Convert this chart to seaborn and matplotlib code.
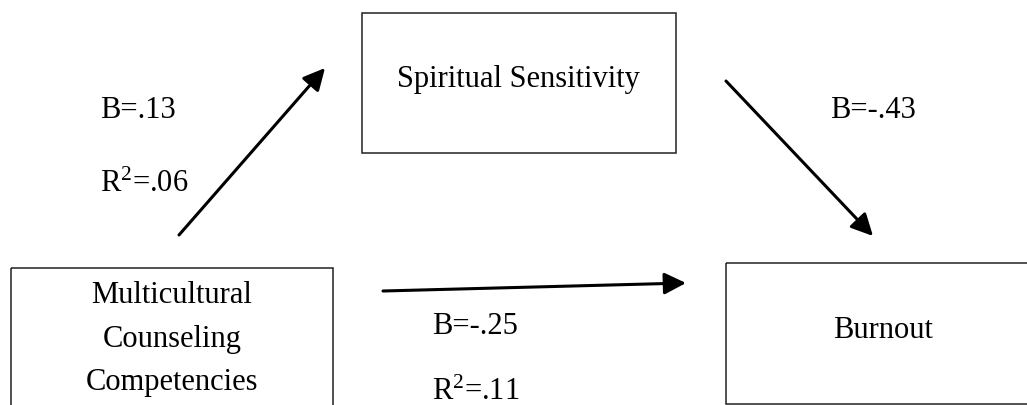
import matplotlib
matplotlib.use("Agg")
import matplotlib.pyplot as plt
import matplotlib.patches as patches
import seaborn as sns

# path model: nodes and coefficients
node_names = ["Multicultural\nCounseling\nCompetencies", "Spiritual Sensitivity", "Burnout"]
path_from = ["Multicultural\nCounseling\nCompetencies", "Spiritual Sensitivity", "Multicultural\nCounseling\nCompetencies"]
path_to = ["Spiritual Sensitivity", "Burnout", "Burnout"]
path_b = [".13", "-.43", "-.25"]
path_r2 = [".06", None, ".11"]

sns.set_theme(style="white")
plt.rcParams["font.family"] = ["Liberation Serif", "DejaVu Serif"]
plt.rcParams["mathtext.fontset"] = "custom"
plt.rcParams["mathtext.rm"] = "Liberation Serif"
plt.rcParams["mathtext.it"] = "Liberation Serif"

W, H = 1027, 405
fig = plt.figure(figsize=(W / 100, H / 100), dpi=100)
ax = fig.add_axes([0, 0, 1, 1])
ax.set_xlim(0, W)
ax.set_ylim(H, 0)
ax.axis("off")

# layout (pixel space): box rect, text centre
boxes = {
    node_names[0]: dict(rect=(11, 268, 322, 160), text=(172, 339)),
    node_names[1]: dict(rect=(362, 13, 314, 140), text=(518, 80)),
    node_names[2]: dict(rect=(726, 263, 320, 141), text=(883, 331)),
}
for name, b in boxes.items():
    x, y, w, h = b["rect"]
    ax.add_patch(patches.Rectangle((x, y), w, h, fill=False, edgecolor="#222222",
                                   linewidth=1.1, clip_on=True))
    ax.text(*b["text"], name, ha="center", va="center", fontsize=22,
            linespacing=1.68, color="black")

# arrows: start, tip
arrows = [((179, 235), (325, 68)), ((726, 81), (873, 236)), ((383, 291), (686, 283))]
for (s, t) in arrows:
    ax.annotate("", xy=t, xytext=s,
                arrowprops=dict(arrowstyle="-|>,head_length=1.1,head_width=0.55",
                                color="black", lw=2.2, shrinkA=0, shrinkB=0))

# coefficient labels: B position, R2 position
label_pos = [((100, 110), (100, 184)), ((830, 110), None), ((432, 326), (432, 392))]
for b, r2, (pb, pr) in zip(path_b, path_r2, label_pos):
    ax.text(pb[0], pb[1], "B=" + b, ha="left", va="center", fontsize=22, color="black")
    if r2 is not None:
        ax.text(pr[0], pr[1], r"R$^{\mathrm{2}}$=" + r2, ha="left", va="center",
                fontsize=22, color="black")

fig.savefig("out.png", dpi=100, facecolor="white")
